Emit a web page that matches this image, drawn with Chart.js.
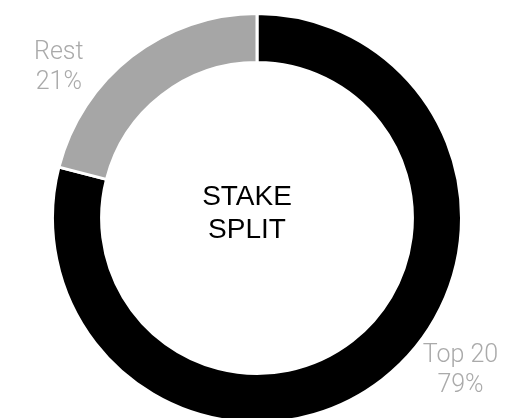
<!DOCTYPE html>
<html>
<head>
<meta charset="utf-8">
<script src="https://cdn.jsdelivr.net/npm/chart.js@4"></script>
<style>
  html, body { margin: 0; padding: 0; background: #fff; overflow: hidden; }
  #wrap { position: relative; width: 505px; height: 424px; }
</style>
</head>
<body>
<div id="wrap"><canvas id="chart"></canvas></div>
<script>
// 数据
const categories = ['Top 20', 'Rest'];
const shares = [79, 21];
const sliceColors = ['#000000', '#a6a6a6'];
const centerLines = ['STAKE', 'SPLIT'];

// 外部标签 + 中心文字
const labelPlugin = {
  id: 'labelPlugin',
  afterDatasetsDraw(chart, args, opts) {
    const ctx = chart.ctx;
    const arcs = chart.getDatasetMeta(0).data;
    if (!arcs.length) return;
    const cx = arcs[0].x, cy = arcs[0].y, r = arcs[0].outerRadius;
    ctx.save();
    ctx.textAlign = 'center';
    ctx.textBaseline = 'middle';

    // 中心标题
    ctx.fillStyle = '#000';
    ctx.font = '28px "Liberation Sans", Arial, sans-serif';
    centerLines.forEach((t, i) => {
      ctx.fillText(t, cx - 10, cy - 21 + i * 33.5);
    });

    // 外部标签
    ctx.fillStyle = '#aaaaaa';
    ctx.font = '300 25px Roboto, sans-serif';
    arcs.forEach((arc, i) => {
      const a = (opts.angles[i] - 90) * Math.PI / 180;
      const d = r * opts.dist;
      const x = cx + Math.cos(a) * d;
      const y = cy + Math.sin(a) * d;
      ctx.fillText(categories[i], x, y - 10);
      ctx.fillText(shares[i] + '%', x, y + 20);
    });
    ctx.restore();
  }
};

const ctx = document.getElementById('chart').getContext('2d');
new Chart(ctx, {
  type: 'doughnut',
  data: {
    labels: categories,
    datasets: [{
      data: shares,
      backgroundColor: sliceColors,
      borderColor: '#ffffff',
      borderWidth: 3
    }]
  },
  options: {
    responsive: true,
    maintainAspectRatio: false,
    animation: false,
    cutout: '76%',
    layout: { padding: { top: 12, left: 9, right: 0, bottom: 0 } },
    plugins: {
      legend: { display: false },
      tooltip: { enabled: false },
      labelPlugin: { angles: [126, 308], dist: 1.23 }
    }
  },
  plugins: [labelPlugin]
});
</script>
</body>
</html>
